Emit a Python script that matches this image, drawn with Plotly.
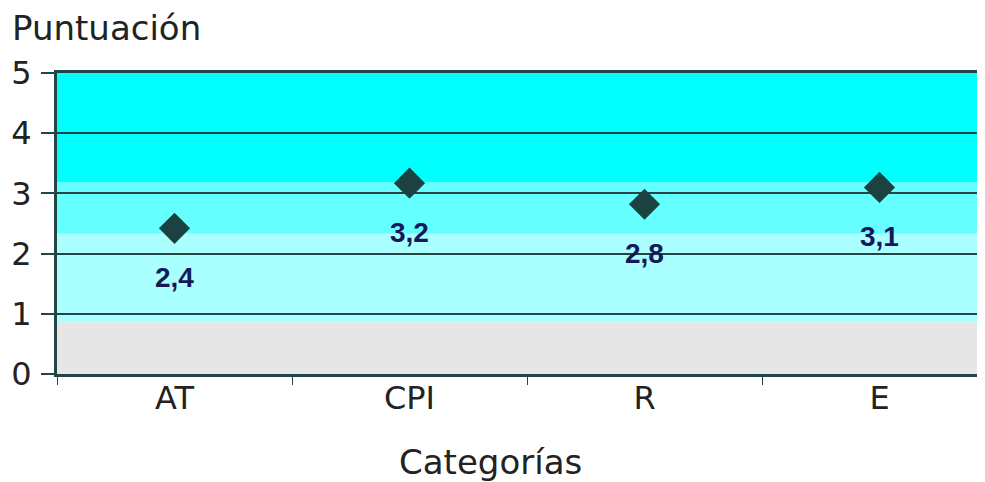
import plotly.graph_objects as go

categories = ["AT", "CPI", "R", "E"]
scores = [2.42, 3.17, 2.82, 3.1]
score_labels = ["2,4", "3,2", "2,8", "3,1"]
y_ticks = [0, 1, 2, 3, 4, 5]

band_edges = [0, 0.86, 2.33, 3.19, 5]
band_colors = ["#e6e6e6", "#aaffff", "#66ffff", "#00ffff"]

font_family = "DejaVu Sans"
line_col = "#244545"

fig = go.Figure()

fig.add_trace(go.Scatter(
    x=categories, y=scores, mode="markers",
    marker=dict(symbol="diamond", size=24, color="#1b4141"),
    showlegend=False, hoverinfo="skip",
))

shapes = []
for i, c in enumerate(band_colors):
    shapes.append(dict(type="rect", xref="paper", yref="y", x0=0, x1=1,
                       y0=band_edges[i], y1=band_edges[i + 1],
                       fillcolor=c, line=dict(width=0), layer="below"))

annotations = []
for cat, val, lab in zip(categories, scores, score_labels):
    annotations.append(dict(x=cat, y=val, xref="x", yref="y", text=lab,
                            showarrow=False, yshift=-49,
                            font=dict(family="Liberation Sans", size=28, color="#15195a", weight="bold")))
annotations.append(dict(x=0, y=1.0, xref="paper", yref="paper", xanchor="left", yanchor="middle",
                        text="Puntuación", showarrow=False, xshift=-47, yshift=45,
                        font=dict(family=font_family, size=34, color="#222222")))
annotations.append(dict(x=0, y=0.0, xref="paper", yref="paper", xanchor="center", yanchor="middle",
                        text="Categorías", showarrow=False, xshift=433, yshift=-88,
                        font=dict(family=font_family, size=34, color="#222222")))

fig.update_layout(
    width=985, height=474,
    margin=dict(l=49, r=0, t=65, b=108),
    paper_bgcolor="white", plot_bgcolor="white",
    shapes=shapes, annotations=annotations,
    xaxis=dict(type="category", range=[-0.5, 3.483], showgrid=False,
               showline=True, linecolor=line_col, linewidth=3, mirror=True,
               ticks="outside", tickson="boundaries", ticklen=8, tickcolor=line_col, tickwidth=1,
               ticklabelstandoff=-6,
               tickfont=dict(family=font_family, size=32, color="#222222")),
    yaxis=dict(range=[0, 5], tickvals=y_ticks, showgrid=True, gridcolor=line_col, gridwidth=2,
               zeroline=False, showline=True, linecolor=line_col, linewidth=3,
               ticks="outside", ticklen=13, tickcolor=line_col, tickwidth=2,
               ticklabelstandoff=3,
               tickfont=dict(family=font_family, size=32, color="#222222")),
)

fig.write_html("out.html")
